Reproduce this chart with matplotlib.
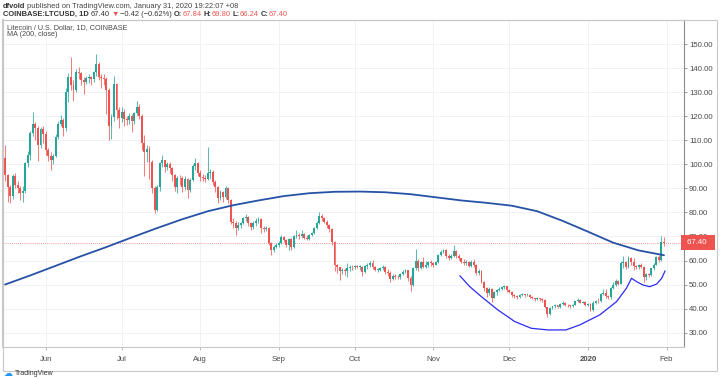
import numpy as np
import pandas as pd
import matplotlib
matplotlib.use('Agg')
import matplotlib.pyplot as plt
import matplotlib.dates as mdates
from matplotlib.patches import Rectangle
from matplotlib.transforms import blended_transform_factory

plt.rcParams['font.family'] = ['Liberation Sans Narrow', 'Liberation Sans', 'DejaVu Sans']

# LTCUSD daily candles, 2019-05-16 .. 2020-01-31
start = '2019-05-16'
first_open = 102.5

may_c = [95.6, 90.5, 87.0, 95.0, 91.5, 90.0, 88.0, 88.8, 100.5, 104.0, 113.0, 116.8, 115.0, 108.0, 114.6, 112.7]
may_h = [108, 96, 91.5, 96, 96.5, 93, 91, 91, 101, 105.5, 114, 122, 117.5, 116, 115.5, 116]
may_l = [93, 84.5, 84, 85.5, 90, 88, 85, 84.5, 88, 99, 102, 112, 110, 101.5, 107, 109]

jun_c = [106.0, 103.5, 102.0, 103.5, 111.6, 117.0, 118.5, 115.0, 130.3, 136.5, 133.0, 131.0, 138.6, 138.0, 135.0,
         134.5, 136.0, 136.2, 135.5, 138.5, 141.8, 136.5, 135.8, 135.5, 131.0, 116.0, 119.6, 133.5, 122.7, 119.2]
jun_h = [114, 107, 105, 104.5, 112.5, 118, 120.5, 119.5, 132, 138, 144.8, 135, 139.5, 140.7, 138.5,
         136.5, 137, 137.5, 137, 139, 146, 142.5, 137.5, 137.5, 136.5, 132, 121, 137, 134, 124]
jun_l = [104, 101.5, 97.5, 100, 103, 110.5, 116, 112, 114, 126, 131, 126.5, 130, 135.5, 133,
         129.5, 133.5, 134, 133, 134.5, 137, 135, 132, 133, 121, 110, 110.5, 118, 119, 115]

jul_c = [122.0, 118.8, 118.5, 120.0, 118.0, 121.3, 124.0, 120.2, 108.8, 105.3, 106.5, 101.2, 90.1, 81.0, 90.8,
         100.5, 101.9, 99.0, 100.0, 98.4, 95.6, 90.8, 94.5, 94.2, 90.5, 94.0, 89.4, 93.5, 99.4, 100.5, 96.5]
jul_h = [124, 123, 120, 121.5, 121, 122, 126.5, 125, 121, 112.3, 108, 107.5, 102, 91, 91.5,
         101, 104, 102, 100.8, 101, 99, 96, 95, 95.5, 95, 95, 94.5, 94.5, 100, 102.5, 101]
jul_l = [117.5, 116, 116.5, 117, 113.5, 117, 120.5, 119, 106, 95, 101, 94, 88, 79.7, 80.5,
         89, 99, 97, 97.5, 96.5, 93, 89, 88, 91.5, 88.5, 89.5, 86, 88.5, 93, 97.5, 95]

aug_c = [94.6, 94.2, 93.8, 96.3, 96.8, 92.8, 90.5, 86.0, 88.5, 86.6, 90.0, 85.2, 76.2, 75.5, 73.4,
         74.8, 75.5, 77.5, 78.0, 75.5, 73.8, 75.8, 76.5, 77.2, 73.5, 73.0, 73.6, 67.2, 64.5, 65.8, 66.5]
aug_h = [97.5, 96, 95.5, 107.4, 98, 97.5, 93.5, 91, 89.5, 89, 91, 90.5, 85.5, 77.5, 76.5,
         76, 76, 78, 79.5, 78.5, 76, 76.5, 77.5, 78, 77.5, 74.5, 74.5, 74, 67.8, 66.5, 67.2]
aug_l = [93, 93, 92.5, 93.5, 94, 91.5, 88.5, 84, 85, 84.5, 85.5, 84, 75, 73.5, 70.5,
         72.5, 73.5, 75, 76.5, 74.5, 72.5, 73, 74.5, 75.5, 71.3, 72, 72.2, 66.5, 62.3, 63.5, 65]

sep_c = [67.4, 69.7, 68.5, 66.5, 68.8, 65.5, 70.0, 70.6, 70.0, 71.0, 69.5, 69.0, 70.6, 71.5, 73.4,
         75.5, 78.5, 77.6, 76.2, 74.8, 73.2, 67.8, 58.0, 57.2, 55.5, 56.1, 55.6, 56.8, 57.5, 57.2]
sep_h = [68, 70.6, 70.2, 69, 69.5, 69.5, 70.5, 72.7, 71.5, 72.7, 71.5, 70.5, 71, 72, 74,
         76.5, 80.3, 79.5, 78.3, 76.8, 75.3, 73.5, 68, 58.5, 57.5, 57, 57, 59, 58, 58]
sep_l = [65.8, 67, 67.5, 65.5, 64.4, 64.4, 65, 69.5, 69, 69.5, 68.8, 68.5, 68.5, 70, 71,
         73, 75, 76.5, 75.5, 73.5, 72, 66.5, 55.5, 55, 51.9, 54.5, 53.8, 53.3, 55.5, 56]

oct_c = [57.7, 57.3, 57.5, 55.4, 57.7, 58.2, 59.1, 57.2, 56.1, 56.1, 57.0, 57.5, 55.4, 54.7, 52.2,
         53.6, 53.3, 53.0, 54.4, 55.4, 56.1, 52.6, 49.8, 56.8, 60.0, 57.0, 59.3, 57.5, 58.2, 59.5, 58.9]
oct_h = [58.3, 58.3, 58, 57.8, 58.3, 58.8, 59.6, 60.2, 57.8, 57, 57.5, 58, 57.8, 56.3, 55.5,
         54.5, 54.5, 54, 55, 56, 56.5, 56.2, 53.5, 57.5, 64.7, 60.5, 60, 61.6, 60, 60, 60.3]
oct_l = [56.5, 56.8, 56, 53.6, 55, 56.5, 57.5, 56.5, 55.5, 55.4, 55.5, 56, 54.5, 53.5, 51.2,
         51.8, 52.5, 52.3, 52.5, 54, 54.8, 51.5, 47.1, 49.5, 56, 55.5, 56.5, 56.8, 57, 57.5, 57.8]

nov_c = [58.3, 59.4, 62.2, 63.6, 64.3, 61.8, 61.0, 62.0, 63.8, 61.8, 60.9, 59.5, 58.8, 59.5, 57.8,
         59.4, 58.0, 54.8, 55.6, 51.0, 48.4, 46.4, 48.2, 44.5, 46.9, 47.7, 48.1, 48.8, 49.2, 47.6]
nov_h = [59.5, 60, 62.8, 64.2, 64.7, 64.7, 62.5, 62.5, 66.5, 64.2, 62.5, 61.2, 60.5, 60.2, 59.8,
         60.3, 60.5, 58.5, 56.4, 56, 51.5, 49, 48.8, 48.5, 47.5, 48.3, 48.8, 49.4, 49.6, 49.3]
nov_l = [57.5, 58, 59, 61.8, 63, 61.2, 60.2, 60.5, 61.5, 61.2, 60.3, 59, 58, 58.2, 57.2,
         57.5, 57.5, 54, 54, 50.5, 47.5, 45, 45.5, 42.9, 44.3, 45.5, 47.2, 47.8, 48.2, 47]

dec_c = [47.0, 45.5, 45.2, 44.8, 45.6, 45.9, 45.6, 45.8, 45.0, 44.3, 44.0, 44.3, 43.9, 43.5, 40.5,
         37.7, 40.3, 40.9, 41.3, 40.6, 41.9, 42.5, 41.6, 41.3, 40.9, 41.6, 43.0, 43.6, 42.5, 42.9, 41.5]
dec_h = [48.2, 47.5, 46, 45.8, 46.2, 46.4, 46.2, 46.3, 46, 45.3, 44.6, 44.8, 44.6, 44.2, 43.8,
         40.8, 40.6, 41.2, 41.8, 41.5, 42.3, 43, 42.8, 42, 41.5, 42, 43.3, 44.3, 43.8, 43.3, 43.1]
dec_l = [46.3, 45, 44.5, 44.1, 44.5, 45.2, 45, 45.1, 44.5, 43.9, 43.3, 43.5, 43.2, 42.8, 40.1,
         36.6, 37.2, 40, 40.3, 40.2, 40.4, 41.6, 41.2, 40.6, 40.2, 40.6, 41.4, 42.6, 42.2, 42.2, 41]

jan_c = [41.9, 39.6, 42.2, 43.1, 43.0, 46.0, 46.6, 45.2, 44.8, 48.6, 49.6, 51.6, 50.3, 58.8, 59.5,
         57.2, 60.9, 59.5, 57.7, 57.5, 58.2, 57.5, 53.3, 54.4, 54.0, 56.8, 58.3, 61.3, 60.2, 67.84, 67.40]
jan_h = [42.3, 42.2, 43, 43.6, 44.3, 46.5, 48.3, 48.2, 45.8, 49, 51, 52.2, 51.8, 59.8, 61.8,
         60, 62, 61.5, 61, 58.3, 58.6, 59, 57.6, 55, 55, 57, 59, 61.8, 62.2, 70.2, 69.80]
jan_l = [41.2, 38.8, 39, 41.8, 42.5, 42.8, 45.5, 44.5, 44, 44, 48.2, 49.4, 49.8, 50.2, 56.8,
         56.5, 56.8, 58, 56, 56.3, 56.5, 57, 51.2, 52, 53.2, 53.5, 56.2, 58, 59.2, 59.8, 66.24]

# MA(200, close), read every 10 days
ma_days = [0, 10, 20, 30, 40, 50, 60, 70, 80, 90, 100, 110, 120, 130, 140, 150, 160, 170, 180,
           190, 200, 210, 220, 230, 240, 250, 260]
ma_vals = [50.0, 53.8, 57.8, 61.8, 65.6, 69.6, 73.5, 77.2, 80.5, 83.0, 85.0, 86.8, 88.0, 88.6, 88.7,
           88.4, 87.6, 86.3, 85.0, 84.0, 82.8, 80.5, 76.5, 72.0, 67.4, 64.2, 62.2]

# hand drawn "cup" annotation (days from start, price)
cup_days = [179.5, 183.5, 187.9, 194.5, 201.1, 207.6, 214.2, 221.3, 226.8, 234.7, 241.3, 245.2,
            247.2, 249.2, 251.7, 254.4, 257.1, 259.1, 260.4]
cup_vals = [53.6, 49.0, 45.0, 39.4, 34.6, 31.8, 31.1, 31.1, 33.2, 37.4, 42.9, 48.5,
            52.6, 51.2, 49.8, 49.1, 50.2, 52.6, 55.6]

month_ticks = ['2019-06-01', '2019-07-01', '2019-08-01', '2019-09-01', '2019-10-01', '2019-11-01',
               '2019-12-01', '2020-01-01', '2020-02-01']
month_labels = ['Jun', 'Jul', 'Aug', 'Sep', 'Oct', 'Nov', 'Dec', '2020', 'Feb']
price_ticks = [30, 40, 50, 60, 70, 80, 90, 100, 110, 120, 130, 140, 150]
last_price = 67.40

UP = '#26a69a'
DOWN = '#ef5350'

closes = np.array(may_c + jun_c + jul_c + aug_c + sep_c + oct_c + nov_c + dec_c + jan_c)
highs = np.array(may_h + jun_h + jul_h + aug_h + sep_h + oct_h + nov_h + dec_h + jan_h, dtype=float)
lows = np.array(may_l + jun_l + jul_l + aug_l + sep_l + oct_l + nov_l + dec_l + jan_l, dtype=float)
opens = np.concatenate([[first_open], closes[:-1]])
highs = np.maximum(highs, np.maximum(opens, closes))
lows = np.minimum(lows, np.minimum(opens, closes))

t0 = mdates.date2num(pd.Timestamp(start))
dates = mdates.date2num(pd.date_range(start, periods=len(closes), freq='D'))
cols = np.where(closes >= opens, UP, DOWN)

W, H = 720, 379
fig = plt.figure(figsize=(W / 100, H / 100), dpi=100)
fig.patch.set_facecolor('white')

# plot panel: x 3..684 px, y 20..347 px
ax = fig.add_axes([3 / W, 1 - 347 / H, (684 - 3) / W, (347 - 20) / H])
ax.set_facecolor('white')

ax.vlines(dates, lows, highs, colors=cols, linewidth=0.75, alpha=0.75, zorder=2)
body_bot = np.minimum(opens, closes)
body_h = np.maximum(np.abs(closes - opens), 0.25)
ax.bar(dates, body_h, bottom=body_bot, width=0.75, color=cols, linewidth=0, zorder=3)

ax.plot(t0 + np.array(ma_days), ma_vals, color='#2552a6', linewidth=1.3, zorder=4, solid_capstyle='round')
ax.plot(t0 + np.array(cup_days), cup_vals, color='#2b2bf5', linewidth=0.9, zorder=5)

ax.axhline(last_price, color=DOWN, linewidth=0.6, linestyle=(0, (1, 1.5)), alpha=0.8, zorder=1)

ax.set_xlim(t0 - 0.8, t0 + 267.9)
ax.set_ylim(24.0, 160.1)

xt = mdates.date2num(pd.to_datetime(month_ticks))
ax.set_xticks(xt)
ax.set_xticklabels(month_labels)
ax.set_yticks(price_ticks)
ax.set_yticklabels([f'{v:.2f}' for v in price_ticks])
ax.yaxis.tick_right()
ax.grid(True, color='#eef1f6', linewidth=0.7, zorder=0)
ax.set_axisbelow(True)

ax.tick_params(axis='y', length=2, width=0.6, color='#8a8a8a', pad=1.5, labelsize=5.6, labelcolor='#4a4a4a')
ax.tick_params(axis='x', length=2, width=0.6, color='#b0b0b0', pad=4.5, labelsize=5.6, labelcolor='#4a4a4a')
for lab in ax.get_xticklabels():
    if lab.get_text() == '2020':
        lab.set_fontweight('bold')

for s in ['top', 'left']:
    ax.spines[s].set_color('#c8c8c8')
    ax.spines[s].set_linewidth(0.8)
ax.spines['left'].set_linewidth(1.5)
ax.spines['right'].set_color('#8a8a8a')
ax.spines['right'].set_linewidth(0.8)
ax.spines['bottom'].set_color('#c8c8c8')
ax.spines['bottom'].set_linewidth(0.8)

# last price tag on the price axis
tr = blended_transform_factory(ax.transAxes, ax.transData)
ax.text(1.002, last_price, f' {last_price:.2f}  ', transform=tr, ha='left', va='center', fontsize=5.6,
        color='white', clip_on=False, zorder=10,
        bbox=dict(boxstyle='square,pad=0.5', fc=DOWN, ec='none'))

# outer frame of the whole chart
fig.add_artist(Rectangle((3 / W, 1 - 371 / H), (717 - 3) / W, (371 - 20) / H, transform=fig.transFigure,
                         fill=False, edgecolor='#c8c8c8', linewidth=0.8))

# legend inside panel
fig.text(7 / W, 1 - 27.5 / H, 'Litecoin / U.S. Dollar, 1D, COINBASE', fontsize=5.2, color='#4a4a4a', va='center')
fig.text(7 / W, 1 - 35 / H, 'MA (200, close)', fontsize=5.2, color='#4a4a4a', va='center')


def chain(parts, x, y, size):
    s, c, w = parts[0]
    prev = fig.text(x, y, s, color=c, fontsize=size, fontweight=w, va='center')
    for s, c, w, gap in parts[1:]:
        prev = ax.annotate(s, xy=(1, 0.5), xycoords=prev, xytext=(gap, 0), textcoords='offset points',
                           va='center', ha='left', color=c, fontsize=size, fontweight=w,
                           annotation_clip=False)


dark = '#333333'
chain([('dfvold', dark, 'bold'),
       ('published on TradingView.com, January 31, 2020 19:22:07 +08', '#444444', 'normal', 1.3)],
      3 / W, 1 - 6 / H, 5.4)
chain([('COINBASE:LTCUSD, 1D', dark, 'bold'),
       ('67.40', dark, 'normal', 1.5),
       ('▼', DOWN, 'normal', 1.0),
       ('\u22120.42 (\u22120.62%)', dark, 'normal', 1.0),
       ('O:', dark, 'bold', 1.5), ('67.84', DOWN, 'normal', 0.2),
       ('H:', dark, 'bold', 1.3), ('69.80', DOWN, 'normal', 0.2),
       ('L:', dark, 'bold', 1.3), ('66.24', DOWN, 'normal', 0.2),
       ('C:', dark, 'bold', 1.3), ('67.40', DOWN, 'normal', 0.2)],
      3 / W, 1 - 14.7 / H, 5.4)

# TradingView logo
fig.text(4 / W, 1 - 373.5 / H, '\u2601', fontsize=6.5, color='#2196f3', va='center', family='DejaVu Sans')
fig.text(15 / W, 1 - 373.5 / H, 'TradingView', fontsize=5.0, color='#333333', va='center')

fig.savefig('out.png', dpi=100, facecolor='white')
